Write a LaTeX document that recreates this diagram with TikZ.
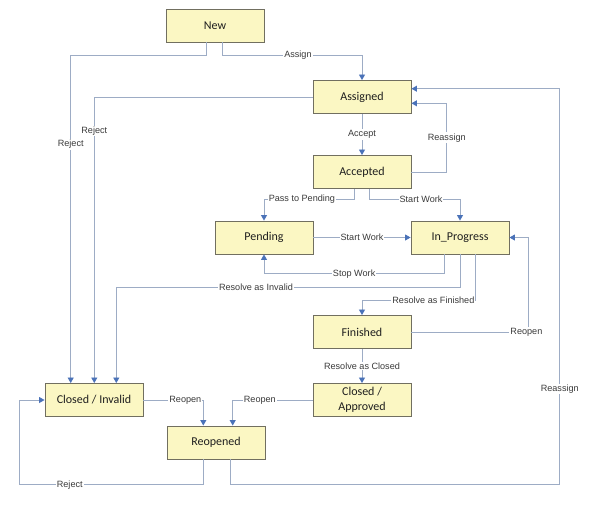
\documentclass[tikz,border=0pt]{standalone}
\usepackage{fontspec}
\setmainfont{Carlito}
\newfontfamily\labelfont{Liberation Sans}
\usetikzlibrary{arrows.meta,calc}

\definecolor{boxfill}{HTML}{FBF7C3}
\definecolor{boxline}{HTML}{716F60}
\definecolor{connline}{HTML}{9DACC5}
\definecolor{tipblue}{HTML}{4A72B8}
\definecolor{labeltext}{HTML}{3A3A3A}

\tikzset{
  state/.style={draw=boxline, line width=0.9pt, fill=boxfill,
    minimum width=98pt, minimum height=33pt, inner sep=1pt,
    font=\fontsize{12}{14.5}\selectfont, text=black!88, align=center},
  conn/.style={draw=connline, line width=0.85pt,
    -{Triangle[length=5.5pt,width=6pt,color=tipblue]}},
  lbl/.style={fill=white, inner sep=1pt, text=labeltext,
    font=\labelfont\fontsize{9.1}{10}\selectfont}
}

\begin{document}
\begin{tikzpicture}[x=1pt,y=-1pt]
\useasboundingbox (0,0) rectangle (594,515);

% states
\node[state] (new)      at (215,25.5)  {New};
\node[state] (assigned) at (362,97)    {Assigned};
\node[state] (accepted) at (362,172)   {Accepted};
\node[state] (pending)  at (264,237.5) {Pending};
\node[state] (inprog)   at (460,237.5) {In\_Progress};
\node[state] (finished) at (362,332)   {Finished};
\node[state] (approved) at (362,400)   {Closed /\\Approved};
\node[state] (invalid)  at (94,400)    {Closed / Invalid};
\node[state] (reopened) at (216,442.5) {Reopened};

% transitions
\draw[conn] ($(new.south)+(7.7,0)$) -- ++(0,13)
  -| node[lbl,pos=0.27] (l-assign) {Assign} (assigned.north);
\draw[conn] ($(new.south)+(-8.3,0)$) -- ++(0,13)
  -| node[lbl,pos=0.636] (l-reject1) {Reject} ($(invalid.north)+(-23.3,0)$);
\draw[conn] (assigned.west)
  -| node[lbl,pos=0.559] (l-reject2) {Reject} ($(invalid.north)+(0.3,0)$);
\draw[conn] (assigned) -- node[lbl] (l-accept) {Accept} (accepted);
\draw[conn] (accepted.east) -- ++(35.3,0)
  |- node[lbl,pos=0.25] (l-reassign1) {Reassign} ($(assigned.east)+(0,6.3)$);
\draw[conn] ($(accepted.south)+(-7.7,0)$) -- ++(0,10)
  -| node[lbl,pos=0.29] (l-pass) {Pass to Pending} (pending.north);
\draw[conn] ($(accepted.south)+(7.3,0)$) -- ++(0,10)
  -| node[lbl,pos=0.285] (l-start1) {Start Work} (inprog.north);
\draw[conn] (pending.east) -- node[lbl] (l-start2) {Start Work} (inprog.west);
\draw[conn] ($(inprog.south)+(-15.7,0)$) -- ++(0,19.3)
  -| node[lbl,pos=0.25] (l-stop) {Stop Work} (pending.south);
\draw[conn] ($(inprog.south)+(0.3,0)$) -- ++(0,32.7)
  -| node[lbl,pos=0.297] (l-invalid) {Resolve as Invalid} ($(invalid.north)+(22.3,0)$);
\draw[conn] ($(inprog.south)+(15.3,0)$) -- ++(0,46)
  -| node[lbl,pos=0.185] (l-finish) {Resolve as Finished} (finished.north);
\draw[conn] (finished.east) -- node[lbl,pos=0.98] (l-reopen1) {Reopen} ++(117.3,0)
  |- (inprog.east);
\draw[conn] (finished) -- node[lbl] (l-close) {Resolve as Closed} (approved);
\draw[conn] (invalid.east)
  -| node[lbl,pos=0.35] (l-reopen2) {Reopen} ($(reopened.north)+(-12.7,0)$);
\draw[conn] (approved.west)
  -| node[lbl,pos=0.33] (l-reopen3) {Reopen} ($(reopened.north)+(16.7,0)$);
\draw[conn] ($(reopened.south)+(-12.7,0)$) -- ++(0,25.3)
  -| node[lbl,pos=0.364] (l-reject3) {Reject} ($(invalid.west)+(-24.7,0)$)
  -- (invalid.west);
\draw[conn] ($(reopened.south)+(14.7,0)$) -- ++(0,25.3)
  -| node[lbl,pos=0.621] (l-reassign2) {Reassign} ($(assigned.east)+(148.3,-8.3)$)
  -- ($(assigned.east)+(0,-8.3)$);
\end{tikzpicture}
\end{document}
